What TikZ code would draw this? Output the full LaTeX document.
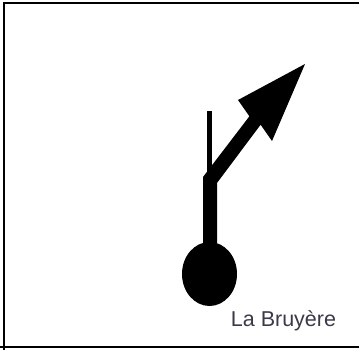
\documentclass[tikz,border=0pt]{standalone}
\usepackage{fontspec}
\setmainfont{Liberation Sans}
\usepackage{tikz}
\definecolor{captext}{HTML}{3A3A48}
\tikzset{frame/.style={line width=1.5pt, black},
  sign/.style={fill=black, draw=none},
  placename/.style={font=\fontsize{21.5}{25}\selectfont, text=captext, inner sep=0pt, anchor=base}}

\begin{document}
\begin{tikzpicture}[x=1pt, y=-1pt]
  \useasboundingbox (0,0) rectangle (359,350);
  % frame
  \draw[frame] (359,3) -- (4,3) -- (4,350);
  \draw[frame] (0,347) -- (359,347);
  % thin branch
  \fill[sign] (207,111) rectangle (212,178);
  % stem with bent arrow
  \fill[sign] (203,274) -- (203,177) -- (249.4,116.3) -- (238,100) -- (305,64)
    -- (272,141) -- (260.6,124.7) -- (217,183) -- (217,274) -- cycle;
  % start point
  \fill[sign] (209.5,274) ellipse [x radius=27.5, y radius=32];
  % name
  \node[placename] (name) at (283.5,326.7) {La Bruyère};
\end{tikzpicture}
\end{document}
